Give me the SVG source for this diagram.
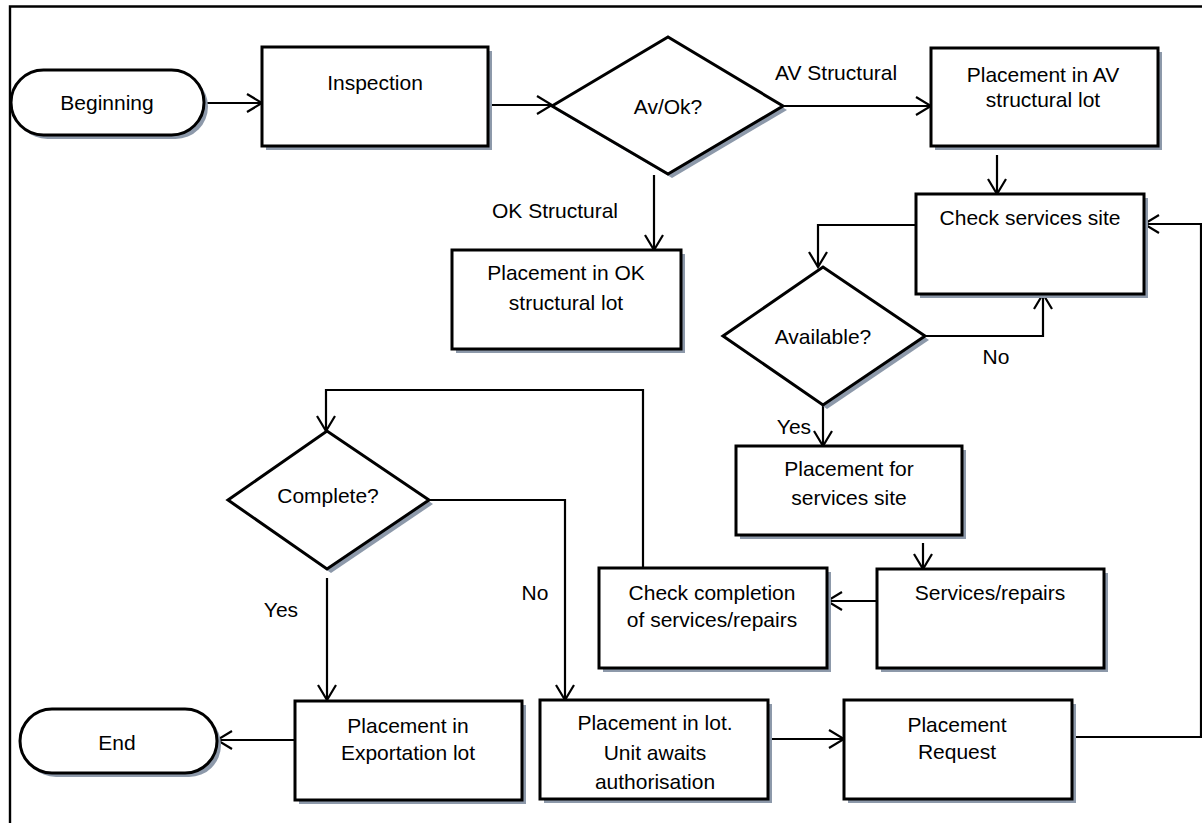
<svg xmlns="http://www.w3.org/2000/svg" width="1202" height="823" viewBox="0 0 1202 823">
<style>
.sh{fill:#8d99aa;stroke:none}
.bx{fill:#fff;stroke:#000;stroke-width:3}
.t{font-family:"Liberation Sans",Arial,sans-serif;font-size:21px;fill:#000;text-anchor:middle}
.l{font-family:"Liberation Sans",Arial,sans-serif;font-size:21px;fill:#000}
.c{fill:none;stroke:#000;stroke-width:2.2;marker-end:url(#arr)}
</style>
<defs>
<marker id="arr" markerUnits="userSpaceOnUse" markerWidth="18" markerHeight="22" viewBox="0 0 18 22" refX="16" refY="11" orient="auto">
<path d="M1,2 L16,11 L1,20" fill="none" stroke="#000" stroke-width="2.2"/>
</marker>
</defs>
<rect width="1202" height="823" fill="#fff"/>
<path d="M10,823 V6.5 H1202" fill="none" stroke="#000" stroke-width="2.4"/>

<g id="connectors">
<path class="c" d="M204,103 H262"/>
<path class="c" d="M488,105 H552"/>
<path class="c" d="M783,106 H931"/>
<path class="c" d="M654,175 V250"/>
<path class="c" d="M997,155 V194"/>
<path class="c" d="M1072,737 H1201 V224 H1144"/>
<path class="c" d="M916,225 H818 V267"/>
<path class="c" d="M925,336 H1043 V294"/>
<path class="c" d="M823,405 V446"/>
<path class="c" d="M923,543 V569"/>
<path class="c" d="M877,601 H827"/>
<path class="c" d="M643,568 V390 H326 V431"/>
<path class="c" d="M429,500 H565 V700"/>
<path class="c" d="M327,578 V700"/>
<path class="c" d="M295,740 H217"/>
<path class="c" d="M768,739 H844"/>
<text class="l" x="775" y="80">AV Structural</text>
<text class="t" x="555" y="218">OK Structural</text>
<text class="t" x="996" y="364">No</text>
<text class="t" x="794" y="434">Yes</text>
<text class="t" x="535" y="600">No</text>
<text class="t" x="281" y="617">Yes</text>
</g>

<g id="beginning">
<rect class="sh" x="15" y="74" width="193" height="65" rx="32.5"/>
<rect class="bx" x="11" y="70" width="193" height="65" rx="32.5"/>
<text class="t" x="107" y="110">Beginning</text>
</g>

<g id="inspection">
<rect class="sh" x="266" y="51" width="226" height="99"/>
<rect class="bx" x="262" y="47" width="226" height="99"/>
<text class="t" x="375" y="90">Inspection</text>
</g>

<g id="avok">
<polygon class="sh" points="556,110 672,41 787,110 672,178"/>
<polygon class="bx" points="552,106 668,37 783,106 668,174"/>
<text class="t" x="668" y="114">Av/Ok?</text>
</g>

<g id="av-lot">
<rect class="sh" x="935" y="52" width="227" height="98"/>
<rect class="bx" x="931" y="48" width="227" height="98"/>
<text class="t" x="1043" y="82">Placement in AV</text>
<text class="t" x="1043" y="107">structural lot</text>
</g>

<g id="ok-lot">
<rect class="sh" x="456" y="254" width="229" height="99"/>
<rect class="bx" x="452" y="250" width="229" height="99"/>
<text class="t" x="566" y="280">Placement in OK</text>
<text class="t" x="566" y="310">structural lot</text>
</g>

<g id="check-services">
<rect class="sh" x="920" y="198" width="228" height="100"/>
<rect class="bx" x="916" y="194" width="228" height="100"/>
<text class="t" x="1030" y="225">Check services site</text>
</g>

<g id="available">
<polygon class="sh" points="727,340 827,271 929,340 827,409"/>
<polygon class="bx" points="723,336 823,267 925,336 823,405"/>
<text class="t" x="823" y="344">Available?</text>
</g>

<g id="placement-services">
<rect class="sh" x="740" y="450" width="226" height="89"/>
<rect class="bx" x="736" y="446" width="226" height="89"/>
<text class="t" x="849" y="476">Placement for</text>
<text class="t" x="849" y="505">services site</text>
</g>

<g id="services-repairs">
<rect class="sh" x="881" y="573" width="227" height="99"/>
<rect class="bx" x="877" y="569" width="227" height="99"/>
<text class="t" x="990" y="600">Services/repairs</text>
</g>

<g id="check-completion">
<rect class="sh" x="603" y="572" width="228" height="100"/>
<rect class="bx" x="599" y="568" width="228" height="100"/>
<text class="t" x="712" y="600">Check completion</text>
<text class="t" x="712" y="627">of services/repairs</text>
</g>

<g id="complete">
<polygon class="sh" points="232,504 331,435 433,504 331,573"/>
<polygon class="bx" points="228,500 327,431 429,500 327,569"/>
<text class="t" x="328" y="503">Complete?</text>
</g>

<g id="export-lot">
<rect class="sh" x="299" y="705" width="227" height="99"/>
<rect class="bx" x="295" y="701" width="227" height="99"/>
<text class="t" x="408" y="733">Placement in</text>
<text class="t" x="408" y="760">Exportation lot</text>
</g>

<g id="lot-await">
<rect class="sh" x="544" y="704" width="228" height="99"/>
<rect class="bx" x="540" y="700" width="228" height="99"/>
<text class="t" x="655" y="730">Placement in lot.</text>
<text class="t" x="655" y="760">Unit awaits</text>
<text class="t" x="655" y="789">authorisation</text>
</g>

<g id="placement-request">
<rect class="sh" x="848" y="704" width="228" height="99"/>
<rect class="bx" x="844" y="700" width="228" height="99"/>
<text class="t" x="957" y="732">Placement</text>
<text class="t" x="957" y="759">Request</text>
</g>

<g id="end">
<rect class="sh" x="24" y="713" width="197" height="64" rx="32"/>
<rect class="bx" x="20" y="709" width="197" height="64" rx="32"/>
<text class="t" x="117" y="750">End</text>
</g>
</svg>
